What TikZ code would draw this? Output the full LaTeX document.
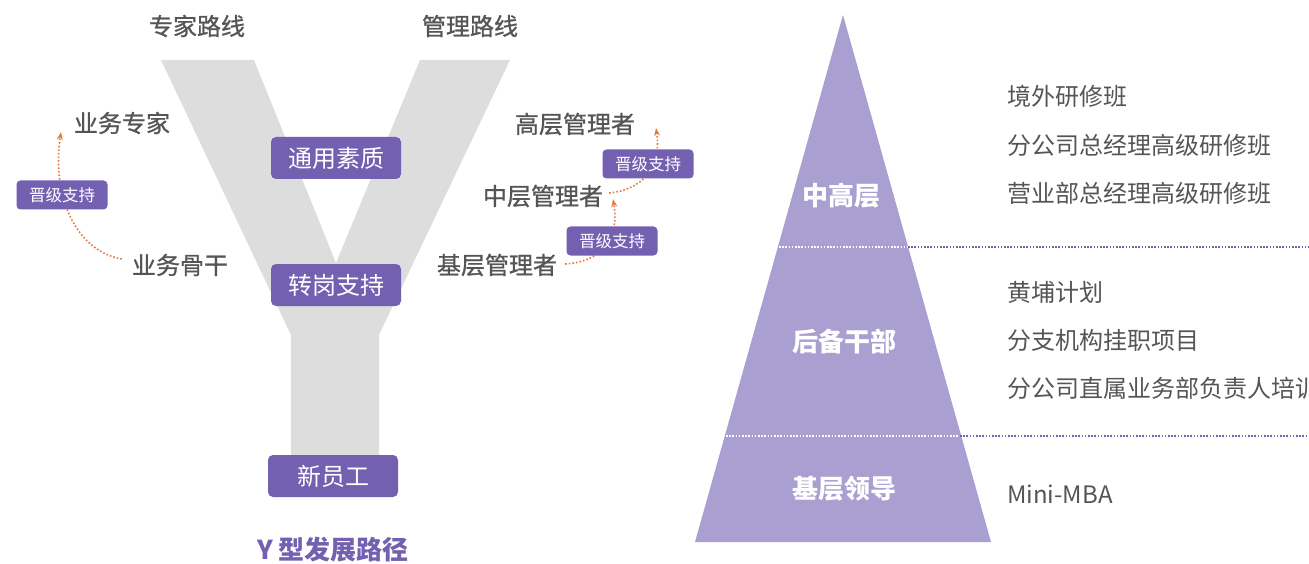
\documentclass[tikz,border=0pt]{standalone}
\usepackage{fontspec}
\setmainfont{Noto Sans CJK SC}
\newfontfamily\medfont{Noto Sans CJK SC}[FakeBold=1]
\usetikzlibrary{arrows.meta}
\definecolor{ygray}{RGB}{220,221,220}
\definecolor{bpurple}{RGB}{115,96,176}
\definecolor{tpurple}{RGB}{170,159,209}
\definecolor{txtgray}{RGB}{85,85,85}
\definecolor{arrorange}{RGB}{230,120,60}
\tikzset{
  pill/.style={fill=bpurple, rounded corners=5pt, text=white, minimum width=130pt, minimum height=42pt, inner sep=0pt, font=\fontsize{24}{26}\selectfont},
  smallpill/.style={fill=bpurple, rounded corners=4pt, text=white, minimum width=91pt, minimum height=29pt, inner sep=0pt, font=\fontsize{16.5}{18}\selectfont},
  lbl/.style={text=txtgray, inner sep=0pt, font=\medfont\fontsize{24}{26}\selectfont},
  lst/.style={text=txtgray, inner sep=0pt, anchor=west, font=\fontsize{24}{26}\selectfont},
  tlbl/.style={text=white, inner sep=0pt, font=\bfseries\fontsize{26}{28}\selectfont},
  promo/.style={arrorange, line width=1.6pt, dash pattern=on 1.6pt off 2pt, -{Stealth[length=8pt,width=6pt]}},
  sepin/.style={white, line width=1.6pt, dash pattern=on 1.6pt off 1.6pt},
  sepout/.style={bpurple, line width=1.6pt, dash pattern=on 1.6pt off 1.6pt}
}
\begin{document}
\begin{tikzpicture}[x=1pt,y=-1pt]
\useasboundingbox (0,0) rectangle (1309,564);
% Y shape
\fill[ygray] (161,60) -- (254,60) -- (336,263) -- (420,60) -- (510,60) -- (379,335) -- (379,470) -- (291,470) -- (291,335) -- cycle;
% labels
\node[lbl] (zjlx) at (197,26) {专家路线};
\node[lbl] (gllx) at (470,26) {管理路线};
\node[lbl] (ywzj) at (122,123) {业务专家};
\node[lbl] (ywgg) at (180,265) {业务骨干};
\node[lbl] (gc) at (575,124) {高层管理者};
\node[lbl] (zc) at (543,196) {中层管理者};
\node[lbl] (jc) at (497,265) {基层管理者};
% arrow ends
\coordinate (t1) at (61,132);
\coordinate (t2) at (656,128);
\coordinate (t3) at (613,199);
\draw[promo] ([shift={(-10,-6)}]ywgg.west) .. controls (72,250) and (52,190) .. (t1);
\draw[promo] ([shift={(6,-3)}]zc.east) .. controls (640,190) and (662,170) .. (t2);
\draw[promo] ([shift={(8,-1)}]jc.east) .. controls (600,262) and (620,240) .. (t3);
% boxes
\node[pill] (ty) at (336,158) {通用素质};
\node[pill] (zg) at (336,285) {转岗支持};
\node[pill] (xy) at (333,476) {新员工};
\node[smallpill] (p1) at (62,195) {晋级支持};
\node[smallpill] (p2) at (648,164) {晋级支持};
\node[smallpill] (p3) at (612,241) {晋级支持};
% caption
\node[text=bpurple, inner sep=0pt, font=\bfseries\fontsize{26}{28}\selectfont] (cap) at (333,550) {Y 型发展路径};
% pyramid
\fill[tpurple] (843,15) -- (991,542) -- (695,542) -- cycle;
\draw[sepin] (779,247) -- (908,247);
\draw[sepout] (908,247) -- (1309,247);
\draw[sepin] (726,436) -- (960,436);
\draw[sepout] (960,436) -- (1309,436);
\node[tlbl] (zgc) at (841,196) {中高层};
\node[tlbl] (hbgb) at (844,342) {后备干部};
\node[tlbl] (jcld) at (844,489) {基层领导};
% lists
\node[lst] (l1) at (1007,96) {境外研修班};
\node[lst] (l2) at (1007,145) {分公司总经理高级研修班};
\node[lst] (l3) at (1007,193) {营业部总经理高级研修班};
\node[lst] (l4) at (1007,292) {黄埔计划};
\node[lst] (l5) at (1007,340) {分支机构挂职项目};
\node[lst] (l6) at (1007,388) {分公司直属业务部负责人培训};
\node[lst] (l7) at (1007,494) {Mini-MBA};
\end{tikzpicture}
\end{document}
